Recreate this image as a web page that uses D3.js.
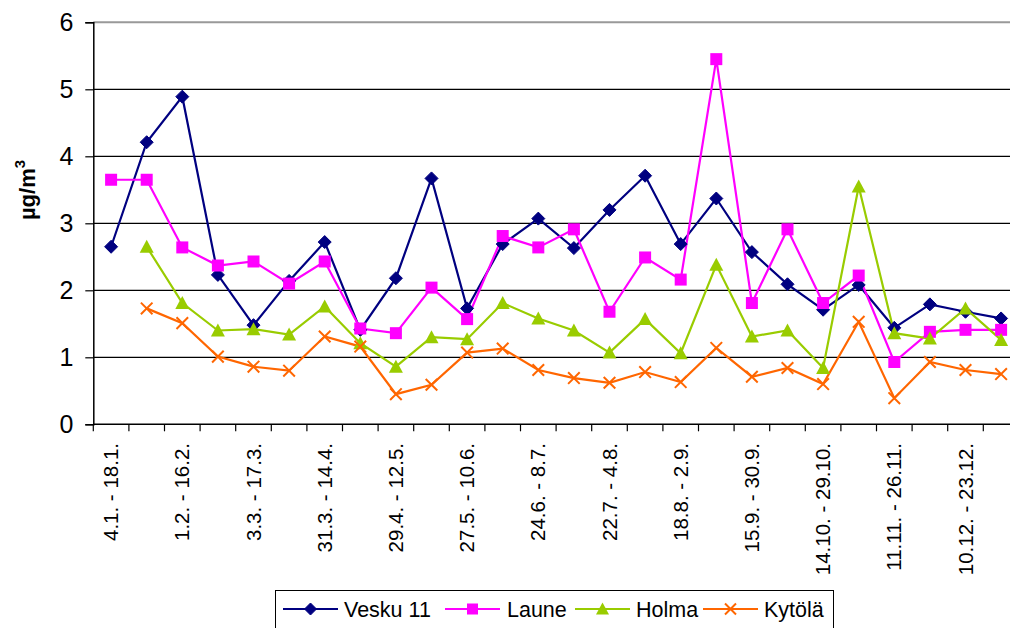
<!DOCTYPE html>
<html><head><meta charset="utf-8">
<script src="https://cdn.jsdelivr.net/npm/d3@7"></script>
<style>body{margin:0;background:#fff}svg{display:block}</style>
</head><body>
<svg id="c" width="1010" height="628"></svg>
<script>
const categories = ["4.1. - 18.1.","18.1. - 1.2.","1.2. - 16.2.","16.2. - 3.3.","3.3. - 17.3.","17.3. - 31.3.","31.3. - 14.4.","14.4. - 29.4.","29.4. - 12.5.","12.5. - 27.5.","27.5. - 10.6.","10.6. - 24.6.","24.6. - 8.7.","8.7. - 22.7.","22.7. - 4.8.","4.8. - 18.8.","18.8. - 2.9.","2.9. - 15.9.","15.9. - 30.9.","30.9. - 14.10.","14.10. - 29.10.","29.10. - 11.11.","11.11. - 26.11.","26.11. - 10.12.","10.12. - 23.12.","23.12. - 7.1."];
const vesku = [2.65,4.21,4.89,2.23,1.48,2.14,2.72,1.41,2.18,3.67,1.73,2.69,3.07,2.63,3.20,3.71,2.69,3.37,2.57,2.09,1.71,2.08,1.44,1.79,1.68,1.58];
const laune = [3.65,3.65,2.64,2.37,2.43,2.10,2.43,1.43,1.36,2.04,1.57,2.81,2.64,2.91,1.68,2.49,2.16,5.45,1.81,2.91,1.81,2.22,0.93,1.38,1.41,1.41];
const holma = [null,2.65,1.81,1.40,1.42,1.34,1.76,1.21,0.86,1.30,1.27,1.81,1.58,1.40,1.07,1.57,1.06,2.38,1.31,1.40,0.84,3.55,1.36,1.28,1.73,1.26];
const kytola = [null,1.73,1.51,1.01,0.86,0.80,1.31,1.16,0.45,0.59,1.07,1.13,0.81,0.69,0.62,0.78,0.63,1.14,0.71,0.84,0.60,1.53,0.39,0.93,0.81,0.75];
const yTicks = [0,1,2,3,4,5,6];
const seriesNames = ["Vesku 11","Laune","Holma","Kytölä"];

const series = [
  {name: seriesNames[0], values: vesku, color: "#000080", marker: "diamond"},
  {name: seriesNames[1], values: laune, color: "#FF00FF", marker: "square"},
  {name: seriesNames[2], values: holma, color: "#99CC00", marker: "triangle"},
  {name: seriesNames[3], values: kytola, color: "#FF6600", marker: "x"}
];

const svg = d3.select("#c");
const font = "'Liberation Sans', Arial, sans-serif";
const L = 93.3, T = 22.3, B = 424.3, step = 35.6;
const R = L + step * categories.length;

const x = d3.scaleBand().domain(d3.range(categories.length)).range([L, R]);
const y = d3.scaleLinear().domain([0, 6]).range([B, T]);

svg.append("g").selectAll("line").data(yTicks.filter(d => d > 0 && d < 6)).join("line")
  .attr("x1", L).attr("x2", R).attr("y1", d => y(d)).attr("y2", d => y(d))
  .attr("stroke", "#000").attr("stroke-width", 1.2);
svg.append("line").attr("x1", L).attr("x2", R).attr("y1", y(6)).attr("y2", y(6))
  .attr("stroke", "#999").attr("stroke-width", 2);

const yAxis = svg.append("g").attr("transform", `translate(${L},0)`)
  .call(d3.axisLeft(y).tickValues(yTicks).tickSize(8).tickPadding(12).tickFormat(d3.format("d")));
yAxis.select(".domain").attr("stroke", "#000").attr("stroke-width", 1.5);
yAxis.selectAll(".tick line").attr("stroke", "#000").attr("stroke-width", 1.2);
yAxis.selectAll("text").attr("font-family", font).attr("font-size", 25).attr("fill", "#000");

const xg = svg.append("g");
xg.append("line").attr("x1", L).attr("x2", R).attr("y1", B).attr("y2", B)
  .attr("stroke", "#000").attr("stroke-width", 1.5);
xg.selectAll("line.t").data(d3.range(categories.length + 1)).join("line").attr("class", "t")
  .attr("x1", d => L + d * x.step()).attr("x2", d => L + d * x.step())
  .attr("y1", B).attr("y2", B + 7).attr("stroke", "#000").attr("stroke-width", 1.2);
xg.selectAll("text").data(categories.map((c, i) => ({c, i})).filter(d => d.i % 2 === 0)).join("text")
  .attr("transform", d => `translate(${x(d.i) + x.bandwidth() / 2},443) rotate(-90)`)
  .attr("text-anchor", "end").attr("dy", "0.35em")
  .attr("font-family", font).attr("font-size", 20.5).attr("fill", "#000")
  .text(d => d.c);

const yt = svg.append("text").attr("transform", "translate(35,190) rotate(-90)")
  .attr("text-anchor", "middle").attr("font-family", font).attr("font-size", 22)
  .attr("font-weight", "bold").attr("fill", "#000");
yt.append("tspan").text("µg/m");
yt.append("tspan").attr("font-size", 15).attr("dy", "-10").text("3");

const cx = i => x(i) + x.bandwidth() / 2;

function drawMarker(g, type, color, size) {
  const s = size;
  if (type === "diamond") {
    g.append("path").attr("d", `M0,${-s}L${s},0L0,${s}L${-s},0Z`).attr("fill", color).attr("stroke", color).attr("stroke-width", 1);
  } else if (type === "square") {
    g.append("rect").attr("x", -s + 0.5).attr("y", -s + 0.5).attr("width", 2 * s - 1).attr("height", 2 * s - 1).attr("fill", color);
  } else if (type === "triangle") {
    g.append("path").attr("d", `M0,${-s - 0.5}L${s + 0.5},${s - 0.5}L${-s - 0.5},${s - 0.5}Z`).attr("fill", color);
  } else {
    g.append("path").attr("d", `M${-s},${-s}L${s},${s}M${-s},${s}L${s},${-s}`).attr("stroke", color).attr("stroke-width", 2).attr("fill", "none");
  }
}

series.forEach(s => {
  const line = d3.line().defined(d => d != null).x((d, i) => cx(i)).y(d => y(d));
  svg.append("path").attr("d", line(s.values)).attr("fill", "none")
    .attr("stroke", s.color).attr("stroke-width", 2.2);
});
series.forEach(s => {
  s.values.forEach((v, i) => {
    if (v == null) return;
    const g = svg.append("g").attr("transform", `translate(${cx(i)},${y(v)})`);
    drawMarker(g, s.marker, s.color, s.marker === "x" ? 5.8 : 6.5);
  });
});

const lg = svg.append("g");
lg.append("rect").attr("x", 275.5).attr("y", 590.5).attr("width", 558).attr("height", 50)
  .attr("fill", "#fff").attr("stroke", "#000").attr("stroke-width", 1);
const legX = [[283, 338, 344], [445, 500, 507], [575, 630, 636], [703, 758, 764]];
const ly = 609;
series.forEach((s, k) => {
  const [a, b, t] = legX[k];
  lg.append("line").attr("x1", a).attr("x2", b).attr("y1", ly).attr("y2", ly)
    .attr("stroke", s.color).attr("stroke-width", 2.2);
  const g = lg.append("g").attr("transform", `translate(${(a + b) / 2},${ly})`);
  drawMarker(g, s.marker, s.color, s.marker === "x" ? 5.5 : 6);
  lg.append("text").attr("x", t).attr("y", ly).attr("dy", "0.35em")
    .attr("font-family", font).attr("font-size", 21.5).attr("fill", "#000").text(s.name);
});
</script>
</body></html>
